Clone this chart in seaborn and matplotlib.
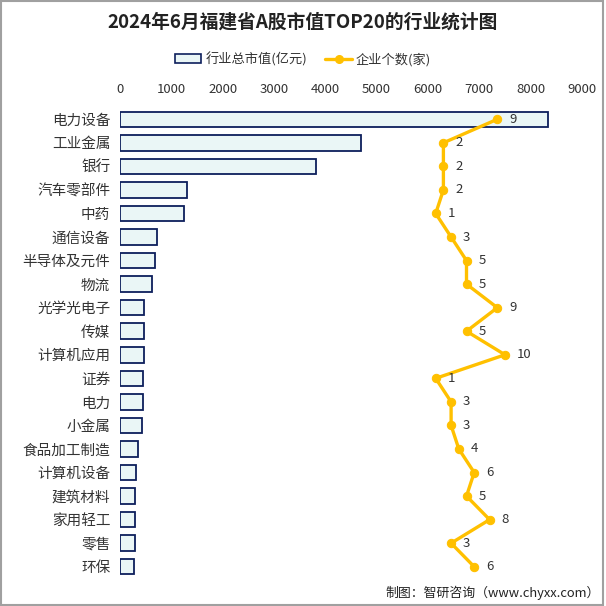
import numpy as np
import pandas as pd
import matplotlib
matplotlib.use("Agg")
import matplotlib.pyplot as plt
import seaborn as sns
from matplotlib.patches import Patch, Rectangle
from matplotlib.lines import Line2D

sns.set_theme(style="white")
plt.rcParams['font.family'] = ['Noto Sans CJK SC', 'DejaVu Sans']

industries = ["电力设备", "工业金属", "银行", "汽车零部件", "中药", "通信设备", "半导体及元件", "物流",
              "光学光电子", "传媒", "计算机应用", "证券", "电力", "小金属", "食品加工制造", "计算机设备",
              "建筑材料", "家用轻工", "零售", "环保"]
market_value = [8330, 4695, 3810, 1300, 1240, 715, 675, 615, 460, 460, 460, 440, 440, 420, 345, 305,
                285, 285, 285, 265]
company_count = [9, 2, 2, 2, 1, 3, 5, 5, 9, 5, 10, 1, 3, 3, 4, 6, 5, 8, 3, 6]
x_ticks = [0, 1000, 2000, 3000, 4000, 5000, 6000, 7000, 8000, 9000]

df = pd.DataFrame({"industry": industries, "value": market_value, "count": company_count})
df["pos"] = np.arange(len(df))

fig = plt.figure(figsize=(6.06, 6.06), dpi=100)
fig.patch.set_facecolor("white")
fig.patches.append(Rectangle((0.001, 0.001), 0.994, 0.997, transform=fig.transFigure,
                             fill=False, edgecolor="#A0A0A0", linewidth=1.5))

ax = fig.add_axes([120 / 606, 1 - 578.5 / 606, 462 / 606, (578.5 - 107.5) / 606])
bar_face = "#EAF6F6"
bar_edge = "#0D1F5C"
sns.barplot(data=df, x="value", y="industry", orient="h", color=bar_face, edgecolor=bar_edge,
            linewidth=1.3, width=0.66, saturation=1, ax=ax)
ax.set_xlabel("")
ax.set_ylabel("")
for s in ax.spines.values():
    s.set_visible(False)
ax.set_ylim(len(df) - 0.5, -0.5)

ax2 = ax.twiny()
line_color = "#FFC000"
sns.lineplot(data=df, x="count", y="pos", sort=False, orient="y", color=line_color, linewidth=2.4,
             marker="o", markersize=6, markeredgecolor=line_color, ax=ax2)
ax2.set_xlim(-40, 20)
ax2.set_ylim(len(df) - 0.5, -0.5)
ax2.set_xticks([])
ax2.set_xlabel("")
ax2.set_ylabel("")
for s in ax2.spines.values():
    s.set_visible(False)
for i, c in enumerate(company_count):
    ax2.annotate(str(c), (c, i), xytext=(8.5, 0), textcoords="offset points", ha="left", va="center",
                 fontsize=9.5, color="#333333")

# primary axis ticks on top (after twiny, which resets them to bottom)
ax.set_xlim(0, 9000)
ax.set_xticks(x_ticks)
ax.set_xticklabels([str(t) for t in x_ticks], fontsize=9.5, color="#333333")
ax.xaxis.tick_top()
ax.xaxis.set_label_position("top")
ax.tick_params(axis="x", length=0, pad=8.5, labeltop=True, labelbottom=False)
ax.tick_params(axis="y", length=0, pad=7, labelsize=10.5, labelcolor="#333333")

fig.text(0.5, 1 - 22 / 606, "2024年6月福建省A股市值TOP20的行业统计图", ha="center", va="center",
         fontsize=13.5, fontweight="bold", color="#222222")

handles = [Patch(facecolor=bar_face, edgecolor=bar_edge, linewidth=1.2),
           Line2D([0], [0], color=line_color, linewidth=2.4, marker="o", markersize=5.5)]
fig.legend(handles, ["行业总市值(亿元)", "企业个数(家)"], loc="center", bbox_to_anchor=(0.5, 1 - 59 / 606),
           ncol=2, frameon=False, fontsize=9.5, handlelength=2.0, handletextpad=0.3, columnspacing=1.4,
           labelcolor="#333333")

fig.text(600 / 606, 1 - 593 / 606, "制图：智研咨询（www.chyxx.com）", ha="right", va="center",
         fontsize=9.3, color="#222222")

fig.savefig("out.png", dpi=100, facecolor="white")
